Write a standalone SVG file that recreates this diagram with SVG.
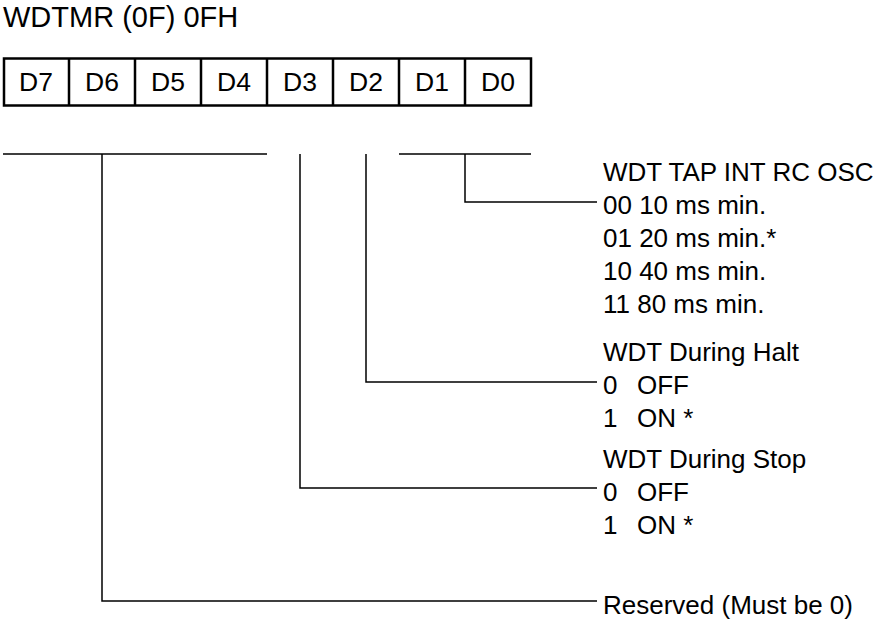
<svg xmlns="http://www.w3.org/2000/svg" width="884" height="622" viewBox="0 0 884 622">
<style>
text{font-family:"Liberation Sans",Arial,sans-serif;fill:#000}
.t{font-size:29px}
.c{font-size:26.5px;text-anchor:middle}
.b{font-size:26px}
.box{fill:#fff;stroke:#000;stroke-width:2.5}
.ln{stroke:#000;stroke-width:1.5;fill:none}
</style>
<rect width="884" height="622" fill="#fff"/>
<g id="title"><text class="t" x="3" y="27">WDTMR (0F) 0FH</text></g>
<g id="register">
<rect class="box" x="4" y="58.5" width="527" height="47"/>
<path class="ln" style="stroke-width:2.5" d="M69 58.5V105.5M135 58.5V105.5M201 58.5V105.5M267 58.5V105.5M333 58.5V105.5M399 58.5V105.5M465 58.5V105.5"/>
<text class="c" x="36" y="91">D7</text>
<text class="c" x="102" y="91">D6</text>
<text class="c" x="168" y="91">D5</text>
<text class="c" x="234" y="91">D4</text>
<text class="c" x="300" y="91">D3</text>
<text class="c" x="366" y="91">D2</text>
<text class="c" x="432" y="91">D1</text>
<text class="c" x="498" y="91">D0</text>
</g>
<g id="connectors">
<path class="ln" d="M3 154H267M102 154V601H597"/>
<path class="ln" d="M300 154V488H597"/>
<path class="ln" d="M366 154V382H597"/>
<path class="ln" d="M399 154H531M465 154V202H597"/>
</g>
<g id="tap">
<text class="b" x="603" y="181">WDT TAP INT RC OSC</text>
<text class="b" x="603" y="214">00 10 ms min.</text>
<text class="b" x="603" y="247">01 20 ms min.*</text>
<text class="b" x="603" y="280">10 40 ms min.</text>
<text class="b" x="603" y="313">11 80 ms min.</text>
</g>
<g id="halt">
<text class="b" x="603" y="361">WDT During Halt</text>
<text class="b" x="603" y="394">0<tspan x="637">OFF</tspan></text>
<text class="b" x="603" y="427">1<tspan x="637">ON *</tspan></text>
</g>
<g id="stop">
<text class="b" x="603" y="468">WDT During Stop</text>
<text class="b" x="603" y="501">0<tspan x="637">OFF</tspan></text>
<text class="b" x="603" y="534">1<tspan x="637">ON *</tspan></text>
</g>
<g id="reserved"><text class="b" x="603" y="614">Reserved (Must be 0)</text></g>
</svg>
